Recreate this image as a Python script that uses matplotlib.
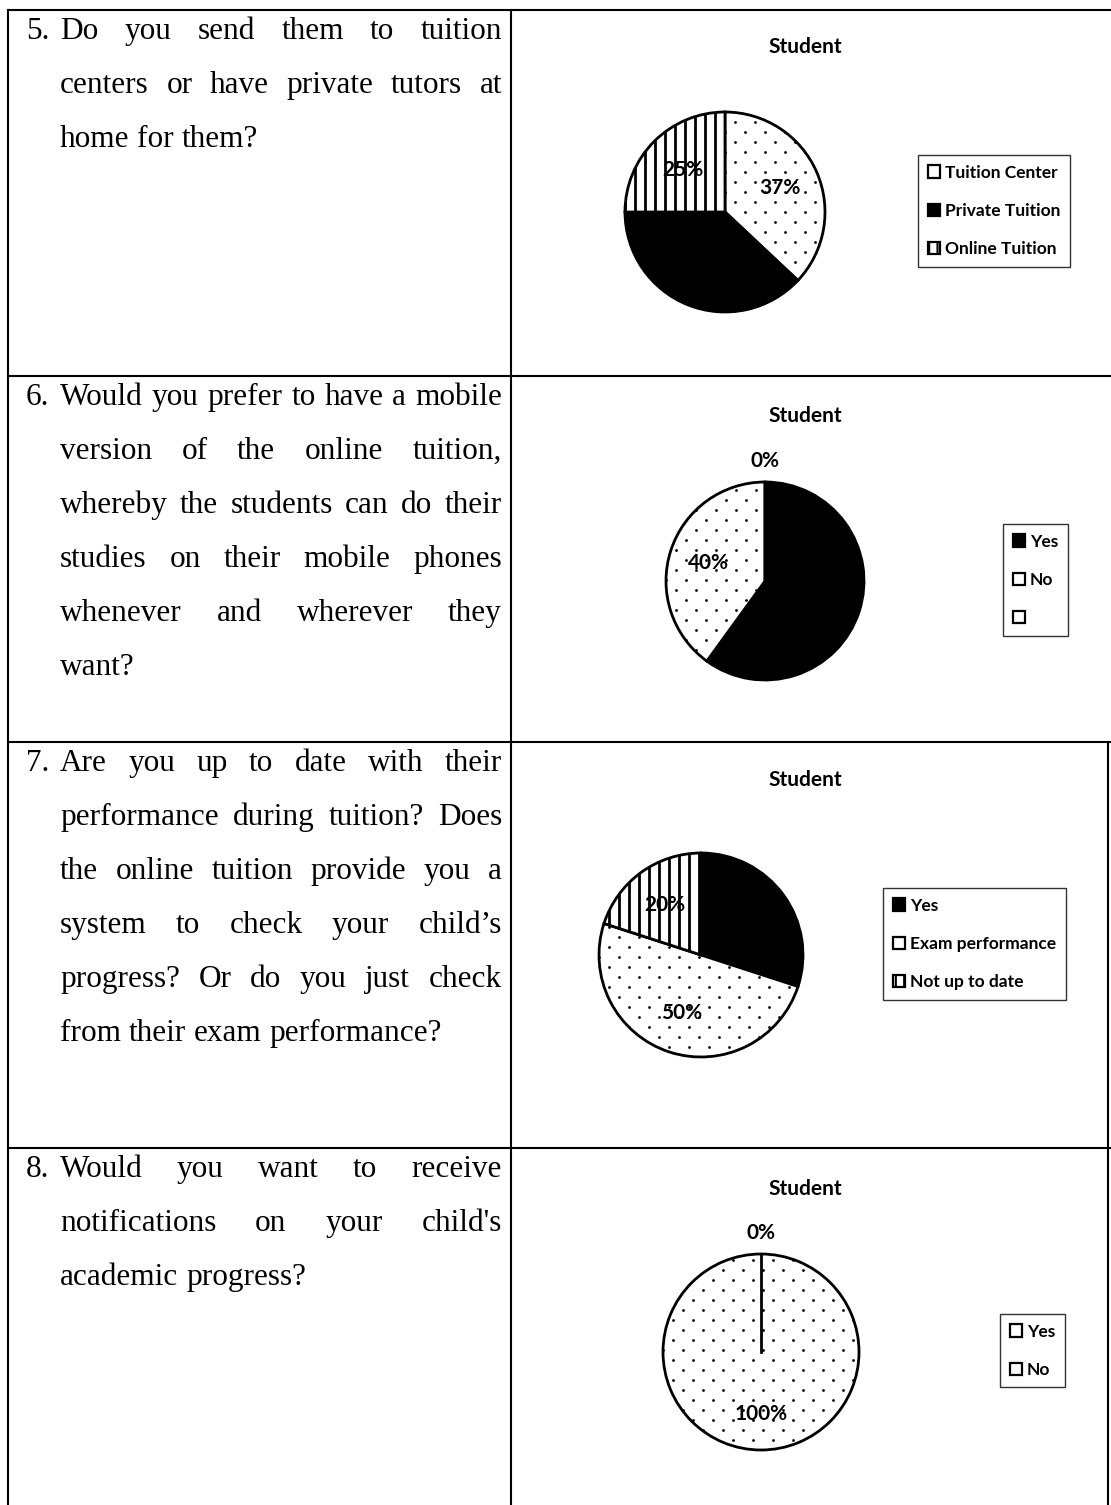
import numpy as np
import matplotlib
matplotlib.use('Agg')
import matplotlib.pyplot as plt

# page size in pixels
W, H = 1111, 1505
DPI = 100

# question texts (one list of printed lines per question)
q_numbers = ['5.', '6.', '7.', '8.']
q5_lines = ['Do you send them to tuition',
            'centers or have private tutors at',
            'home for them?']
q6_lines = ['Would you prefer to have a mobile',
            'version of the online tuition,',
            'whereby the students can do their',
            'studies on their mobile phones',
            'whenever and wherever they',
            'want?']
q7_lines = ['Are you up to date with their',
            'performance during tuition? Does',
            'the online tuition provide you a',
            'system to check your child\u2019s',
            'progress? Or do you just check',
            'from their exam performance?']
q8_lines = ['Would you want to receive',
            'notifications on your child\'s',
            'academic progress?']

# pie chart data
chart_title = 'Student'
pie5_labels = ['Tuition Center', 'Private Tuition', 'Online Tuition']
pie5_values = [37, 38, 25]
pie6_labels = ['Yes', 'No', '']
pie6_values = [60, 40, 0]
pie7_labels = ['Yes', 'Exam performance', 'Not up to date']
pie7_values = [30, 50, 20]
pie8_labels = ['Yes', 'No']
pie8_values = [0, 100]

# fill pattern of each slice
pie5_fill = ['dots', 'solid', 'stripes']
pie6_fill = ['solid', 'dots', 'blank']
pie7_fill = ['solid', 'dots', 'stripes']
pie8_fill = ['blank', 'dots']

SERIF = 'Liberation Serif'
SANS = 'Lato'
TEXT_FS = 22.5

plt.rcParams['hatch.linewidth'] = 1.5

fig = plt.figure(figsize=(W / DPI, H / DPI), dpi=DPI)
page = fig.add_axes([0, 0, 1, 1])
page.set_xlim(0, W)
page.set_ylim(H, 0)
page.axis('off')

# table grid
row_tops = [10, 376, 742, 1148]
x_left, x_mid, x_right = 8, 511, 1108
for y in row_tops:
    page.plot([x_left, W], [y, y], color='black', lw=1.5)
page.plot([x_left, x_left], [row_tops[0], H], color='black', lw=1.5)
page.plot([x_mid, x_mid], [row_tops[0], H], color='black', lw=1.5)
page.plot([x_right, x_right], [row_tops[2], H], color='black', lw=1.5)

renderer = fig.canvas.get_renderer()


def put_line(line, x0, x1, y, justify):
    words = line.split()
    texts = [page.text(x0, y, w, fontsize=TEXT_FS, family=SERIF, va='baseline')
             for w in words]
    widths = [t.get_window_extent(renderer).width for t in texts]
    if justify and len(words) > 1:
        gap = (x1 - x0 - sum(widths)) / (len(words) - 1)
    else:
        gap = TEXT_FS * DPI / 72 * 0.25
    x = x0
    for t, w in zip(texts, widths):
        t.set_x(x)
        x += w + gap


# left column: numbered questions, justified except the last line
pitch = 54
for num, lines, top in zip(q_numbers, [q5_lines, q6_lines, q7_lines, q8_lines], row_tops):
    base = top + 29
    page.text(26, base, num, fontsize=TEXT_FS, family=SERIF, va='baseline')
    for i, line in enumerate(lines):
        put_line(line, 60, 502, base + i * pitch, i < len(lines) - 1)


def draw_pie(cx, cy, r, values, labels, fills, pctdist, title_y, leg_xy):
    ext = 1.35
    ax = fig.add_axes([(cx - ext * r) / W, 1 - (cy + ext * r) / H,
                       2 * ext * r / W, 2 * ext * r / H])
    wedges, _ = ax.pie(values, startangle=90, counterclock=False, radius=1,
                       wedgeprops=dict(edgecolor='black', linewidth=2.0))
    ax.set_xlim(-ext, ext)
    ax.set_ylim(-ext, ext)
    ax.axis('off')
    for w, f, v in zip(wedges, fills, values):
        w.set_facecolor('black' if f == 'solid' else 'white')
        if f == 'dots':
            # sparse dot fill clipped to the slice
            step = 10 / r
            px, py = [], []
            for i, yy in enumerate(np.arange(-1, 1.001, step)):
                xs = np.arange(-1 + (i % 2) * step, 1.001, 2 * step)
                px.extend(xs)
                py.extend([yy] * len(xs))
            sc = ax.scatter(px, py, s=4.0, color='black', linewidths=0, zorder=2)
            sc.set_clip_path(w)
        elif f == 'stripes':
            # vertical stripe fill clipped to the slice
            xs = np.arange(-1, 1.001, 10 / r)
            lc = ax.vlines(xs, -1, 1, color='black', lw=2.0)
            lc.set_clip_path(w)
        if v == 0:
            ang0 = np.deg2rad(w.theta1)
            ax.plot([0, np.cos(ang0)], [0, np.sin(ang0)], color='black', lw=2.0)
        # percentage label
        ang = np.deg2rad((w.theta1 + w.theta2) / 2)
        rr = 1.21 if v == 0 else pctdist
        ax.text(rr * np.cos(ang), rr * np.sin(ang), f'{v}%', ha='center', va='center',
                fontsize=15, weight='bold', family=SANS, color='black', zorder=5)
    page.text(805, title_y, chart_title, ha='center', va='center',
              fontsize=15, weight='bold', family=SANS)
    leg = ax.legend(wedges, labels, loc='upper left',
                    bbox_to_anchor=(leg_xy[0] / W, 1 - leg_xy[1] / H),
                    bbox_transform=fig.transFigure,
                    prop=dict(family=SANS, weight='bold', size=12.5),
                    frameon=True, fancybox=False, borderpad=0.55, labelspacing=1.28,
                    handlelength=0.7, handleheight=0.7, handletextpad=0.3,
                    borderaxespad=0)
    leg.get_frame().set_edgecolor('black')
    leg.get_frame().set_linewidth(1.0)
    for h, f in zip(leg.legend_handles, fills):
        h.set_linewidth(1.6)
        h.set_hatch('||' if f == 'stripes' else None)


draw_pie(725, 212, 100, pie5_values, pie5_labels, pie5_fill, 0.6, 47, (918, 155))
draw_pie(765, 581, 99, pie6_values, pie6_labels, pie6_fill, 0.6, 416, (1003, 524))
draw_pie(701, 955, 102, pie7_values, pie7_labels, pie7_fill, 0.6, 780, (883, 888))
draw_pie(761, 1352, 98, pie8_values, pie8_labels, pie8_fill, 0.63, 1189, (1000, 1314))

fig.savefig('out.png', dpi=DPI, facecolor='white')
